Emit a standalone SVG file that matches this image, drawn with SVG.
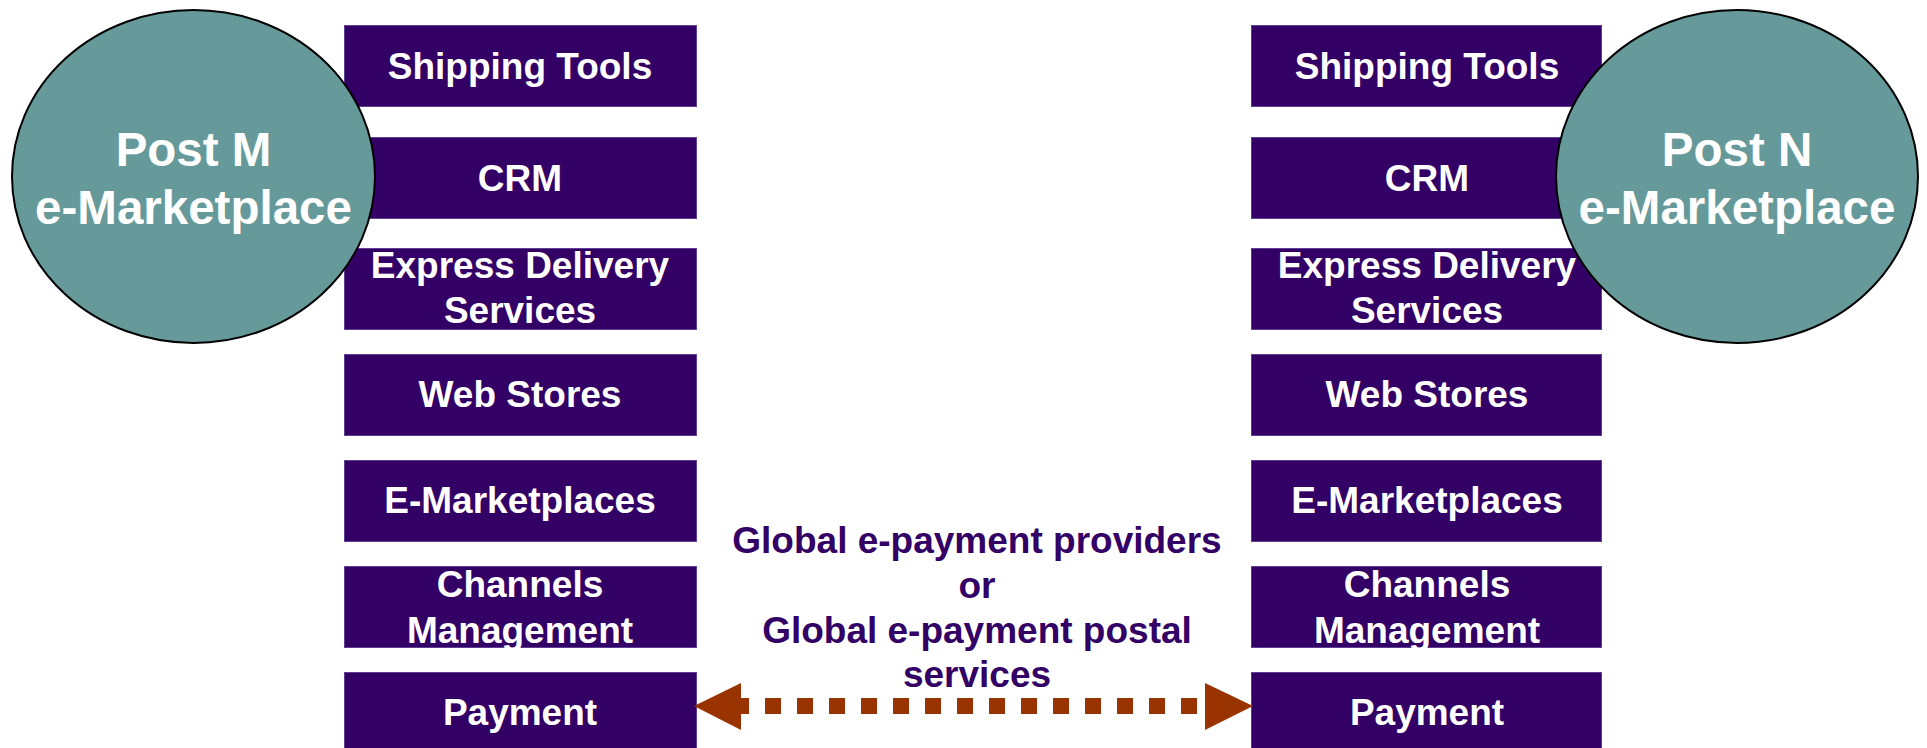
<svg xmlns="http://www.w3.org/2000/svg" width="1927" height="748" viewBox="0 0 1927 748">
<style>
.box{fill:#330066;stroke:#5e3f94;stroke-width:1}
.bt{font-family:"Liberation Sans",Arial,sans-serif;font-weight:bold;font-size:37px;fill:#ffffff;text-anchor:middle}
.circ{fill:#669999;stroke:#000000;stroke-width:2}
.ct{font-family:"Liberation Sans",Arial,sans-serif;font-weight:bold;font-size:47.5px;fill:#ffffff;text-anchor:middle}
.lbl{font-family:"Liberation Sans",Arial,sans-serif;font-weight:bold;font-size:37px;fill:#330066;text-anchor:middle}
.head{fill:#993300}
.shaft{stroke:#993300;stroke-width:16;stroke-dasharray:16 16;stroke-dashoffset:8;fill:none}
</style>
<rect width="1927" height="748" fill="#ffffff"/>
<g id="left-stack">
<g id="l-shipping"><rect class="box" x="344.5" y="25.5" width="352" height="81"/><text class="bt" x="520" y="79">Shipping Tools</text></g>
<g id="l-crm"><rect class="box" x="344.5" y="137.5" width="352" height="81"/><text class="bt" x="520" y="191">CRM</text></g>
<g id="l-express"><rect class="box" x="344.5" y="248.5" width="352" height="81"/><text class="bt" x="520" y="278">Express Delivery</text><text class="bt" x="520" y="323">Services</text></g>
<g id="l-web"><rect class="box" x="344.5" y="354.5" width="352" height="81"/><text class="bt" x="520" y="407">Web Stores</text></g>
<g id="l-emkt"><rect class="box" x="344.5" y="460.5" width="352" height="81"/><text class="bt" x="520" y="513">E-Marketplaces</text></g>
<g id="l-channels"><rect class="box" x="344.5" y="566.5" width="352" height="81"/><text class="bt" x="520" y="597">Channels</text><text class="bt" x="520" y="643">Management</text></g>
<g id="l-payment"><rect class="box" x="344.5" y="672.5" width="352" height="90"/><text class="bt" x="520" y="725">Payment</text></g>
</g>
<g id="right-stack">
<g id="r-shipping"><rect class="box" x="1251.5" y="25.5" width="350" height="81"/><text class="bt" x="1427" y="79">Shipping Tools</text></g>
<g id="r-crm"><rect class="box" x="1251.5" y="137.5" width="350" height="81"/><text class="bt" x="1427" y="191">CRM</text></g>
<g id="r-express"><rect class="box" x="1251.5" y="248.5" width="350" height="81"/><text class="bt" x="1427" y="278">Express Delivery</text><text class="bt" x="1427" y="323">Services</text></g>
<g id="r-web"><rect class="box" x="1251.5" y="354.5" width="350" height="81"/><text class="bt" x="1427" y="407">Web Stores</text></g>
<g id="r-emkt"><rect class="box" x="1251.5" y="460.5" width="350" height="81"/><text class="bt" x="1427" y="513">E-Marketplaces</text></g>
<g id="r-channels"><rect class="box" x="1251.5" y="566.5" width="350" height="81"/><text class="bt" x="1427" y="597">Channels</text><text class="bt" x="1427" y="643">Management</text></g>
<g id="r-payment"><rect class="box" x="1251.5" y="672.5" width="350" height="90"/><text class="bt" x="1427" y="725">Payment</text></g>
</g>
<g id="post-m"><ellipse class="circ" cx="193.5" cy="176.5" rx="181.5" ry="166.5"/><text class="ct" x="193.5" y="166">Post M</text><text class="ct" x="193.5" y="224">e-Marketplace</text></g>
<g id="post-n"><ellipse class="circ" cx="1737" cy="176.5" rx="181" ry="166.5"/><text class="ct" x="1737" y="166">Post N</text><text class="ct" x="1737" y="224">e-Marketplace</text></g>
<g id="connectors">
<line class="shaft" x1="741" y1="706" x2="1205" y2="706"/>
<polygon class="head" points="694,706 741,683 741,730"/>
<polygon class="head" points="1253,706 1205,683 1205,730"/>
</g>
<g id="label">
<text class="lbl" x="977" y="553">Global e-payment providers</text>
<text class="lbl" x="977" y="598">or</text>
<text class="lbl" x="977" y="643">Global e-payment postal</text>
<text class="lbl" x="977" y="687">services</text>
</g>
</svg>
